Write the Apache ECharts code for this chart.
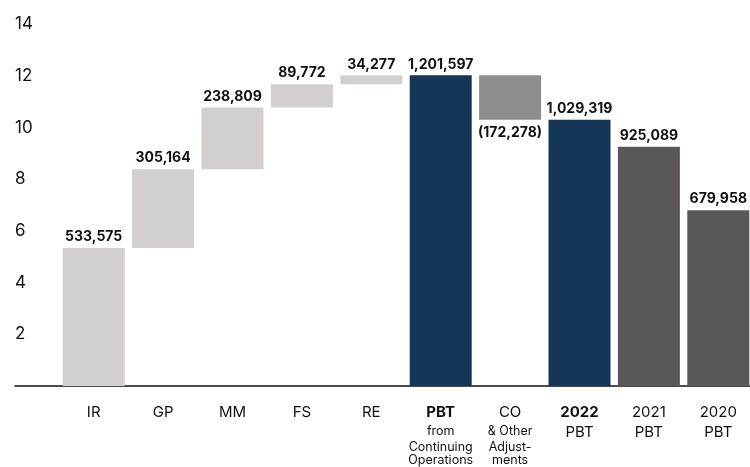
<!DOCTYPE html>
<html>
<head>
<meta charset="utf-8">
<script src="https://cdn.jsdelivr.net/npm/echarts@6/dist/echarts.min.js"></script>
<style>
  html, body { margin: 0; padding: 0; background: #fff; }
  #chart { width: 750px; height: 467px; }
</style>
</head>
<body>
<div id="chart"></div>
<script>
// categories and values (raw amounts), axis is in 100,000s
var categories = ['IR', 'GP', 'MM', 'FS', 'RE', 'PBT', 'CO', '2022', '2021', '2020'];
var values = [533575, 305164, 238809, 89772, 34277, 1201597, -172278, 1029319, 925089, 679958];
// 'step' bars float on the running total, 'total' bars start at zero
var kinds = ['step', 'step', 'step', 'step', 'step', 'total', 'step', 'total', 'total', 'total'];
var yTicks = [0, 2, 4, 6, 8, 10, 12, 14];
var unit = 100000;

// running total -> invisible base + visible height
var baseData = [];
var barData = [];
var running = 0;
values.forEach(function (v, i) {
  if (kinds[i] === 'total') {
    running = v;
    baseData.push(0);
    barData.push(v / unit);
  } else if (v >= 0) {
    baseData.push(running / unit);
    barData.push(v / unit);
    running += v;
  } else {
    running += v;
    baseData.push(running / unit);
    barData.push(-v / unit);
  }
});

var barColors = {
  IR: '#d3cfcf', GP: '#d3cfcf', MM: '#d3cfcf', FS: '#d3cfcf', RE: '#d3cfcf',
  PBT: '#163659', CO: '#8e8e8e', '2022': '#163659', '2021': '#5a5759', '2020': '#5a5759'
};

function fmt(v) {
  var s = Math.abs(v).toLocaleString('en-US');
  return v < 0 ? '(' + s + ')' : s;
}

var axisLabelText = {
  IR: 'IR', GP: 'GP', MM: 'MM', FS: 'FS', RE: 'RE',
  PBT: '{b|PBT}\n{s1|from}\n{s|Continuing}\n{s|Operations}',
  CO: '{n|CO}\n{s1|& Other}\n{s|Adjust-}\n{s|ments}',
  '2022': '{b|2022}\n{n|PBT}',
  '2021': '2021\nPBT',
  '2020': '2020\nPBT'
};

var font = 'Inter, "Liberation Sans", Arial, sans-serif';

var chart = echarts.init(document.getElementById('chart'));
chart.setOption({
  animation: false,
  textStyle: { fontFamily: font },
  grid: [
    { left: 59, right: -3, top: 24, bottom: 81, containLabel: false, outerBoundsMode: 'none' },
    { left: 15, right: 0, top: 24, bottom: 81, containLabel: false, outerBoundsMode: 'none' }
  ],
  xAxis: [
    {
      type: 'category',
      gridIndex: 0,
      data: categories,
      axisLine: { show: false },
      axisTick: { show: false },
      axisLabel: {
        interval: 0,
        hideOverlap: false,
        margin: 16,
        color: '#111',
        fontSize: 15,
        lineHeight: 20,
        fontFamily: font,
        formatter: function (v) { return axisLabelText[v]; },
        rich: {
          b: { fontSize: 15, fontWeight: 'bold', lineHeight: 20, color: '#111', fontFamily: font },
          n: { fontSize: 15, lineHeight: 20, color: '#111', fontFamily: font },
          s1: { fontSize: 12.5, lineHeight: 18, color: '#111', fontFamily: font },
          s: { fontSize: 12.5, lineHeight: 13.5, color: '#111', fontFamily: font }
        }
      }
    },
    {
      type: 'value',
      gridIndex: 1,
      min: 0,
      max: 1,
      axisLine: { show: true, onZero: false, lineStyle: { color: '#111', width: 1.5 } },
      axisTick: { show: false },
      axisLabel: { show: false },
      splitLine: { show: false }
    }
  ],
  yAxis: [
    {
      type: 'value',
      gridIndex: 0,
      min: yTicks[0],
      max: yTicks[yTicks.length - 1],
      interval: 2,
      axisLine: { show: false },
      axisTick: { show: false },
      splitLine: { show: false },
      axisLabel: {
        align: 'left',
        margin: 44,
        color: '#111',
        fontSize: 17,
        fontFamily: font,
        formatter: function (v) { return v === 0 ? '' : String(v); }
      }
    },
    {
      type: 'value',
      gridIndex: 1,
      min: 0,
      max: 1,
      show: false
    }
  ],
  series: [
    {
      type: 'bar',
      stack: 'wf',
      xAxisIndex: 0,
      yAxisIndex: 0,
      barWidth: 62,
      silent: true,
      itemStyle: { color: 'transparent' },
      data: baseData
    },
    {
      type: 'bar',
      stack: 'wf',
      xAxisIndex: 0,
      yAxisIndex: 0,
      barWidth: 62,
      data: barData.map(function (h, i) {
        return {
          value: h,
          itemStyle: { color: barColors[categories[i]] },
          label: {
            show: true,
            position: values[i] < 0 ? 'bottom' : 'top',
            distance: values[i] < 0 ? 6 : 4,
            formatter: function () { return fmt(values[i]); },
            color: '#111',
            fontSize: 14,
            fontWeight: 'bold',
            fontFamily: font
          }
        };
      })
    }
  ]
});
</script>
</body>
</html>
